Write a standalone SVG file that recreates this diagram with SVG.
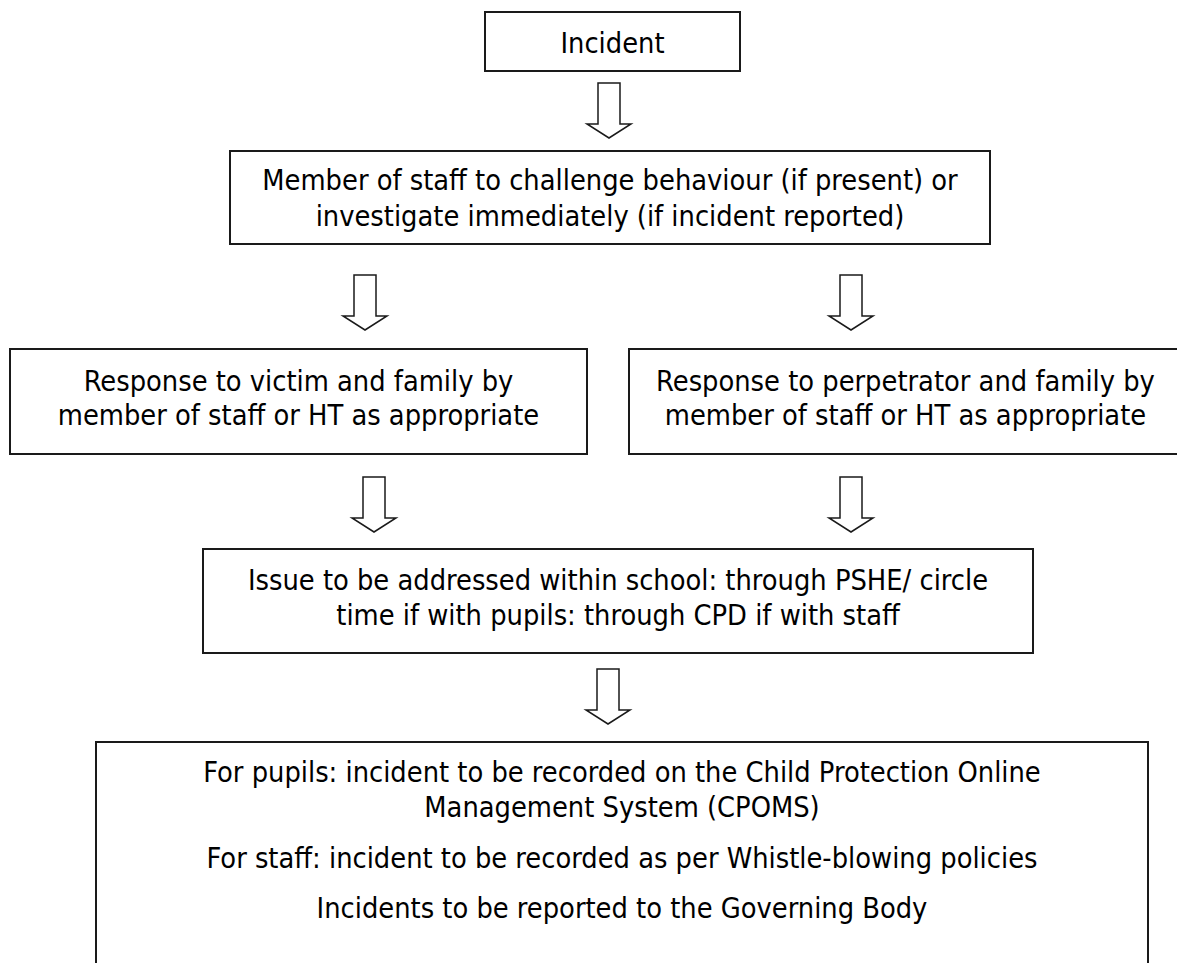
<svg xmlns="http://www.w3.org/2000/svg" width="1177" height="963" viewBox="0 0 1177 963">
<style>
.box{fill:#fff;stroke:#1a1a1a;stroke-width:2}
.arr{fill:#fff;stroke:#1a1a1a;stroke-width:1.5;stroke-linejoin:miter}
.t{font-family:"DejaVu Sans Condensed","DejaVu Sans",sans-serif;font-stretch:condensed;font-size:28.7px;fill:#000;text-anchor:middle}
</style>
<rect width="1177" height="963" fill="#fff"/>
<defs>
<polygon id="arrow" points="-11,0 11,0 11,41 22,41 0,55 -22,41 -11,41 -11,0"/>
</defs>
<g id="connectors">
<use href="#arrow" class="arr" x="609" y="83"/>
<use href="#arrow" class="arr" x="365" y="275"/>
<use href="#arrow" class="arr" x="851" y="275"/>
<use href="#arrow" class="arr" x="374" y="477"/>
<use href="#arrow" class="arr" x="851" y="477"/>
<use href="#arrow" class="arr" x="608" y="669"/>
</g>
<g id="node-incident">
<rect class="box" x="485" y="12" width="255" height="59"/>
<text class="t" x="612.5" y="53">Incident</text>
</g>
<g id="node-challenge">
<rect class="box" x="230" y="151" width="760" height="93"/>
<text class="t" x="610" y="190">Member of staff to challenge behaviour (if present) or</text>
<text class="t" x="610" y="226">investigate immediately (if incident reported)</text>
</g>
<g id="node-victim">
<rect class="box" x="10" y="349" width="577" height="105"/>
<text class="t" x="298.5" y="391">Response to victim and family by</text>
<text class="t" x="298.5" y="425">member of staff or HT as appropriate</text>
</g>
<g id="node-perpetrator">
<rect class="box" x="629" y="349" width="553" height="105"/>
<text class="t" x="905.5" y="391">Response to perpetrator and family by</text>
<text class="t" x="905.5" y="425">member of staff or HT as appropriate</text>
</g>
<g id="node-issue">
<rect class="box" x="203" y="549" width="830" height="104"/>
<text class="t" x="618" y="590">Issue to be addressed within school: through PSHE/ circle</text>
<text class="t" x="618" y="625">time if with pupils: through CPD if with staff</text>
</g>
<g id="node-record">
<rect class="box" x="96" y="742" width="1052" height="240"/>
<text class="t" x="622" y="782">For pupils: incident to be recorded on the Child Protection Online</text>
<text class="t" x="622" y="817">Management System (CPOMS)</text>
<text class="t" x="622" y="868">For staff: incident to be recorded as per Whistle-blowing policies</text>
<text class="t" x="622" y="918">Incidents to be reported to the Governing Body</text>
</g>
</svg>
